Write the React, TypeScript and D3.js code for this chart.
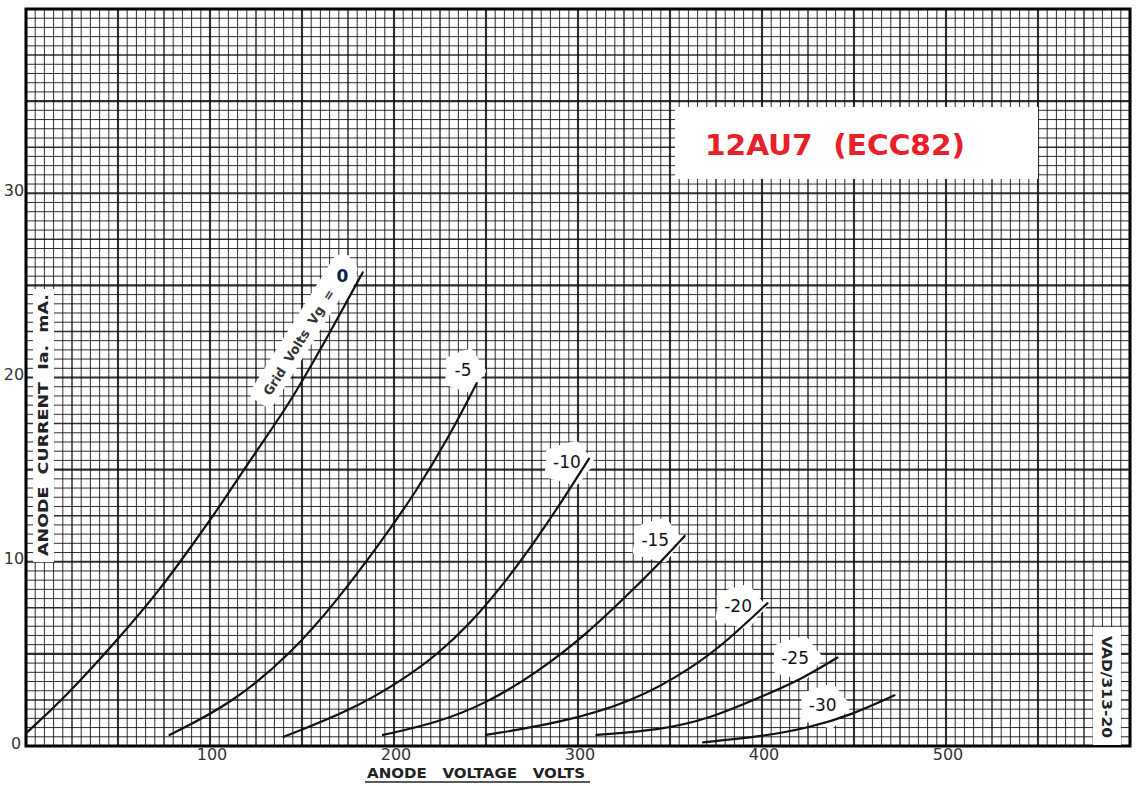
import React from "react";
import * as d3 from "d3";

// ---- data ----
const gridVolts = ["0", "-5", "-10", "-15", "-20", "-25", "-30"];
const va0 = [0, 20, 51, 73, 91, 105, 123, 142, 160, 183];
const ia0 = [0.7, 2.5, 5.9, 8.5, 11.0, 12.95, 15.7, 18.4, 21.5, 25.7];
const va5 = [78, 112, 145, 169, 191, 212, 230, 245];
const ia5 = [0.6, 2.3, 5.1, 7.9, 10.8, 13.8, 16.8, 19.7];
const va10 = [140, 176, 205, 224, 241, 259, 278, 292, 306];
const ia10 = [0.5, 1.9, 3.6, 5.0, 6.6, 8.7, 11.3, 13.4, 15.6];
const va15 = [194, 223, 250, 278, 305, 328, 346, 358];
const ia15 = [0.6, 1.25, 2.3, 4.0, 6.1, 8.3, 10.1, 11.4];
const va20 = [250, 290, 330, 363, 381, 403];
const ia20 = [0.6, 1.25, 2.4, 4.3, 5.7, 7.75];
const va25 = [310, 345, 372, 399, 421, 441];
const ia25 = [0.6, 0.87, 1.5, 2.65, 3.6, 4.8];
const va30 = [368, 399, 426, 449, 472];
const ia30 = [0.2, 0.5, 1.0, 1.7, 2.75];
const xTickValues = [100, 200, 300, 400, 500];
const yTickValues = [0, 10, 20, 30];
// curve label anchors (V, mA)
const labelV = [172, 237.5, 294, 342, 387, 418, 433];
const labelI = [25.5, 20.4, 15.4, 11.2, 7.6, 4.8, 2.2];

const seriesV = [va0, va5, va10, va15, va20, va25, va30];
const seriesI = [ia0, ia5, ia10, ia15, ia20, ia25, ia30];

const W = 1140;
const H = 786;
const x = d3.scaleLinear().domain([0, 600]).range([26, 1130]);
const y = d3.scaleLinear().domain([0, 40]).range([746, 9]);

const line = d3
  .line<[number, number]>()
  .x((d) => x(d[0]))
  .y((d) => y(d[1]))
  .curve(d3.curveBasis);

const blobMul = [1, 0.82, 1.08, 0.9, 1.05, 0.8, 1.0, 0.92, 1.1, 0.86];
function blobPath(cx: number, cy: number, rx: number, ry: number) {
  const pts: [number, number][] = blobMul.map((m, i) => {
    const a = (i / blobMul.length) * Math.PI * 2;
    return [cx + Math.cos(a) * rx * m, cy + Math.sin(a) * ry * m];
  });
  return d3.line().curve(d3.curveCardinalClosed.tension(0.3))(pts) || "";
}

export default function App() {
  const vLines = d3.range(0, 600.001, 5);
  const hLines = d3.range(0, 40.001, 0.5);
  const sw = (v: number, big: number, mid: number) =>
    Math.abs(v % big) < 1e-6 ? 2.1 : Math.abs(v % mid) < 1e-6 ? 1.5 : 1;

  const x0 = x(0), x1 = x(600), y0 = y(0), y1 = y(40);
  const font = "'DejaVu Sans', Verdana, sans-serif";

  return (
    <svg
      width={W}
      height={H}
      viewBox={`0 0 ${W} ${H}`}
      style={{ position: "absolute", left: 0, top: 0, background: "#fff" }}
    >
      <rect width={W} height={H} fill="#fff" />
      {/* grid */}
      <g stroke="#111" strokeOpacity={0.88}>
        {vLines.map((v) => (
          <line key={"v" + v} x1={x(v)} x2={x(v)} y1={y1} y2={y0} strokeWidth={sw(v, 50, 25)} />
        ))}
        {hLines.map((v) => (
          <line key={"h" + v} y1={y(v)} y2={y(v)} x1={x0} x2={x1} strokeWidth={sw(v, 5, 2.5)} />
        ))}
      </g>
      <rect x={x0} y={y1} width={x1 - x0} height={y0 - y1} fill="none" stroke="#000" strokeWidth={3} />

      {/* white boxes */}
      <rect x={33} y={289} width={21} height={273} fill="#fff" />
      <text
        transform={`translate(48,425) rotate(-90)`}
        textAnchor="middle"
        fontFamily={font}
        fontWeight="bold"
        fontSize={14}
        fill="#222"
        textLength={262}
        lengthAdjust="spacingAndGlyphs"
        style={{ whiteSpace: "pre" }}
      >
        {"ANODE  CURRENT  Ia.  mA."}
      </text>

      <rect x={675} y={107} width={363} height={72} fill="#fff" />
      <text
        x={705}
        y={155}
        fontFamily={font}
        fontWeight="bold"
        fontSize={29}
        fill="#e8202a"
        textLength={260}
        lengthAdjust="spacingAndGlyphs"
        style={{ whiteSpace: "pre" }}
      >
        {"12AU7  (ECC82)"}
      </text>

      <rect x={1093} y={627} width={28} height={118} fill="#fff" />
      <text
        transform={`translate(1102,687) rotate(90)`}
        textAnchor="middle"
        fontFamily={font}
        fontWeight="bold"
        fontSize={14}
        fill="#222"
        textLength={102}
        lengthAdjust="spacingAndGlyphs"
      >
        VAD/313-20
      </text>

      {/* Grid Volts ribbon */}
      <g transform="translate(305,332) rotate(-58)">
        <rect x={-84} y={-15} width={168} height={27} fill="#fff" rx={6} />
        <text
          x={-12}
          y={5}
          textAnchor="middle"
          fontFamily={font}
          fontWeight="bold"
          fontSize={13}
          fill="#333"
          textLength={122}
          lengthAdjust="spacingAndGlyphs"
          style={{ whiteSpace: "pre" }}
        >
          {"Grid  Volts  Vg  ="}
        </text>
      </g>

      {/* label blobs */}
      {gridVolts.map((g, i) => {
        const cx = x(labelV[i]);
        const cy = y(labelI[i]);
        const rx = i === 0 ? 14 : 12 + g.length * 5;
        return <path key={"b" + g} d={blobPath(cx + 1, cy + 1, rx, 21)} fill="#fff" />;
      })}

      {/* curves */}
      <g fill="none" stroke="#111" strokeWidth={2.2} strokeLinecap="round">
        {seriesV.map((vs, i) => (
          <path
            key={"c" + i}
            d={line(vs.map((v, j) => [v, seriesI[i][j]] as [number, number])) || ""}
          />
        ))}
      </g>

      {/* curve labels */}
      {gridVolts.map((g, i) => (
        <text
          key={"t" + g}
          x={x(labelV[i])}
          y={y(labelI[i])}
          textAnchor="middle"
          dominantBaseline="central"
          fontFamily={font}
          fontSize={17}
          fill={i === 0 ? "#0b1f4a" : "#111"}
          fontWeight={i === 0 ? "bold" : "normal"}
        >
          {g}
        </text>
      ))}

      {/* tick labels */}
      {xTickValues.map((v) => (
        <text
          key={"xt" + v}
          x={x(v) + 2}
          y={754}
          textAnchor="middle"
          dominantBaseline="central"
          fontFamily={font}
          fontSize={16}
          fill="#333"
        >
          {v}
        </text>
      ))}
      {yTickValues.map((v) => (
        <text
          key={"yt" + v}
          x={v === 0 ? 16 : 14}
          y={y(v) - 3}
          textAnchor="middle"
          dominantBaseline="central"
          fontFamily={font}
          fontSize={16}
          fill="#333"
        >
          {v}
        </text>
      ))}

      {/* x axis title */}
      <text
        x={476}
        y={778}
        textAnchor="middle"
        fontFamily={font}
        fontWeight="bold"
        fontSize={14}
        fill="#222"
        textLength={218}
        lengthAdjust="spacingAndGlyphs"
        style={{ whiteSpace: "pre" }}
      >
        {"ANODE   VOLTAGE   VOLTS"}
      </text>
      <line x1={365} x2={590} y1={782} y2={782} stroke="#222" strokeWidth={1.5} />
    </svg>
  );
}
